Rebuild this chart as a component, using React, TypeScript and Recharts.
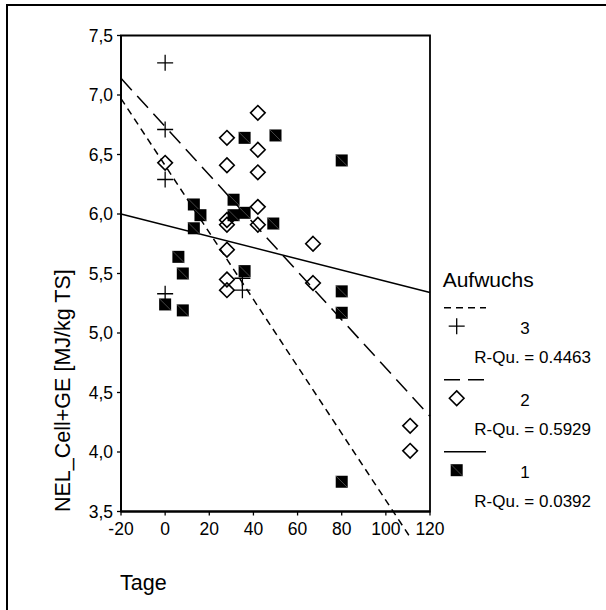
import React from "react";
import { ScatterChart, Scatter, XAxis, YAxis, ReferenceLine, ReferenceArea, Label } from "recharts";

const FONT = "'Liberation Sans', Arial, sans-serif";

const xTicks = [-20, 0, 20, 40, 60, 80, 100, 120];
const yTicks = [3.5, 4.0, 4.5, 5.0, 5.5, 6.0, 6.5, 7.0, 7.5];

// Aufwuchs 1 (filled squares)
const tage1 = [0, 6, 8, 8, 13, 13, 16, 31, 31, 36, 36, 36, 50, 49, 80, 80, 80, 80];
const nel1 = [5.24, 5.64, 5.5, 5.19, 6.08, 5.88, 5.99, 6.12, 5.99, 6.01, 6.64, 5.52, 6.66, 5.92, 6.45, 5.35, 5.17, 3.75];

// Aufwuchs 2 (open diamonds)
const tage2 = [0, 28, 28, 28, 28, 28, 28, 28, 42, 42, 42, 42, 42, 67, 67, 111, 111];
const nel2 = [6.43, 6.64, 6.41, 5.95, 5.91, 5.7, 5.45, 5.36, 6.85, 6.54, 6.35, 6.06, 5.91, 5.75, 5.42, 4.22, 4.01];

// Aufwuchs 3 (crosses)
const tage3 = [0, 0, 0, 0, 35, 35];
const nel3 = [7.27, 6.71, 6.29, 5.33, 5.46, 5.36];

// linear fits, end points
const fit1X = [-20, 120];
const fit1Y = [6.0, 5.34];
const fit2X = [-20, 120];
const fit2Y = [7.14, 4.3];
const fit3X = [-20, 111.5];
const fit3Y = [6.97, 3.27];

const groups = ["3", "2", "1"];
const rSquared = ["0.4463", "0.5929", "0.0392"];
const dashes = ["7 5", "16 8", undefined];

const zip = (xs: number[], ys: number[]) => xs.map((x, i) => ({ x, y: ys[i] }));

const Square = ({ cx, cy }: any) => (
  <g>
    <rect x={cx - 6} y={cy - 6} width={12} height={12} fill="#000" />
    <line x1={cx - 6} y1={cy - 6} x2={cx + 6} y2={cy + 6} stroke="#777" strokeWidth={0.6} />
  </g>
);

const Diamond = ({ cx, cy }: any) => (
  <path
    d={`M${cx},${cy - 7.3}L${cx + 7.3},${cy}L${cx},${cy + 7.3}L${cx - 7.3},${cy}Z`}
    fill="none" stroke="#000" strokeWidth={1.6}
  />
);

const Plus = ({ cx, cy }: any) => (
  <path d={`M${cx - 8},${cy}H${cx + 8}M${cx},${cy - 8}V${cy + 8}`} stroke="#000" strokeWidth={1.3} fill="none" />
);

const shapes = [Plus, Diamond, Square];

const XTitle = ({ viewBox }: any) => (
  <text x={viewBox.x - 1} y={viewBox.y + 78.5} fontSize={21.5} fontFamily={FONT} fill="#000">Tage</text>
);

const YTitle = ({ viewBox }: any) => {
  const x = viewBox.x + 8.5;
  const y = viewBox.y + viewBox.height + 0.5;
  return (
    <text x={x} y={y} transform={`rotate(-90, ${x}, ${y})`} fontSize={21.5} fontFamily={FONT} fill="#000">
      NEL_Cell+GE [MJ/kg TS]
    </text>
  );
};

function LegendBox() {
  return (
    <svg width={166} height={250} style={{ position: "absolute", left: 440, top: 265 }}>
      <text x={2.7} y={22.3} fontSize={21} fontFamily={FONT}>Aufwuchs</text>
      {groups.map((g, i) => {
        const ly = 42.7 + i * 72;
        const Shape = shapes[i];
        return (
          <g key={g}>
            <line x1={4} x2={46} y1={ly} y2={ly} stroke="#000" strokeWidth={1.5} strokeDasharray={dashes[i]} />
            <Shape cx={16.7} cy={ly + 18.5} />
            <text x={85} y={ly + 26.3} textAnchor="middle" fontSize={17} fontFamily={FONT}>{g}</text>
            <text x={34.3} y={ly + 55.3} fontSize={17} fontFamily={FONT}>R-Qu. = {rSquared[i]}</text>
          </g>
        );
      })}
    </svg>
  );
}

export default function App() {
  const tick = { fill: "#000", fontSize: 17.5, fontFamily: FONT };
  return (
    <>
      <style>{`html,body{margin:0;padding:0;overflow:hidden;background:#fff}`}</style>
      <div style={{ position: "relative", width: 606, height: 610, overflow: "hidden" }}>
        <div style={{ position: "absolute", left: 6, top: 4, width: 700, height: 700, borderLeft: "2px solid #000", borderTop: "2px solid #000" }} />
        <div style={{ position: "absolute", left: 8, top: 6 }}>
          <ScatterChart width={598} height={604} margin={{ top: 29.5, right: 176, bottom: 68.5, left: 53 }}>
            <XAxis
              type="number" dataKey="x" domain={[-20, 120]} ticks={xTicks} allowDataOverflow
              tick={tick} tickSize={4} tickMargin={7} height={30}
              stroke="#000" strokeWidth={1.8} tickLine={{ stroke: "#000", strokeWidth: 1.3 }}
            >
              <Label content={XTitle} />
            </XAxis>
            <YAxis
              type="number" dataKey="y" domain={[3.5, 7.5]} ticks={yTicks} allowDataOverflow
              tick={tick} tickSize={4} tickMargin={4} width={60}
              tickFormatter={(v: number) => v.toFixed(1).replace(".", ",")}
              stroke="#000" strokeWidth={1.8} tickLine={{ stroke: "#000", strokeWidth: 1.3 }}
            >
              <Label content={YTitle} />
            </YAxis>
            <ReferenceArea x1={-20} x2={120} y1={3.5} y2={7.5} fill="none" stroke="#000" strokeWidth={1.8} />
            <Scatter name="1" data={zip(tage1, nel1)} shape={Square} isAnimationActive={false} />
            <Scatter name="2" data={zip(tage2, nel2)} shape={Diamond} isAnimationActive={false} />
            <Scatter name="3" data={zip(tage3, nel3)} shape={Plus} isAnimationActive={false} />
            <ReferenceLine
              segment={zip(fit1X, fit1Y)} stroke="#000" strokeWidth={1.5} ifOverflow="visible"
            />
            <ReferenceLine
              segment={zip(fit2X, fit2Y)} stroke="#000" strokeWidth={1.5} strokeDasharray="16 8" ifOverflow="visible"
            />
            <ReferenceLine
              segment={zip(fit3X, fit3Y)} stroke="#000" strokeWidth={1.5} strokeDasharray="7 5" ifOverflow="visible"
            />
          </ScatterChart>
        </div>
        <LegendBox />
      </div>
    </>
  );
}
